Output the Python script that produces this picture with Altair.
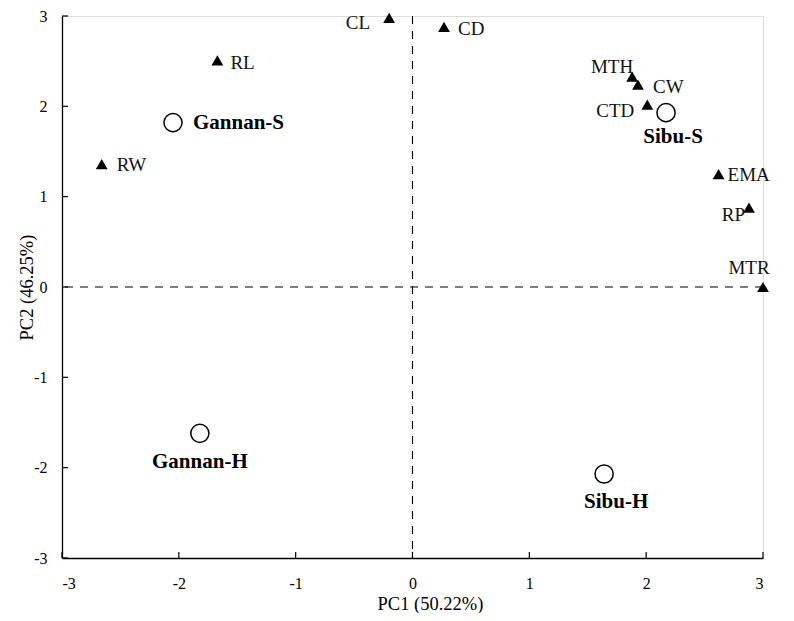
import altair as alt
import pandas as pd

# ---- data ----
var_names = ["CL", "CD", "RL", "RW", "MTH", "CW", "CTD", "EMA", "RP", "MTR"]
var_x = [-0.20, 0.27, -1.67, -2.66, 1.88, 1.93, 2.01, 2.62, 2.88, 3.00]
var_y = [2.98, 2.88, 2.51, 1.36, 2.33, 2.24, 2.02, 1.25, 0.88, 0.00]

grp_names = ["Gannan-S", "Sibu-S", "Gannan-H", "Sibu-H"]
grp_x = [-2.05, 2.17, -1.82, 1.64]
grp_y = [1.82, 1.93, -1.62, -2.07]

tick_values = [-3, -2, -1, 0, 1, 2, 3]

# label placement (align, dx, dy) — styling only
var_label_style = {
    "CL": ("right", -19, 5), "CD": ("left", 14, 2), "RL": ("left", 13, 3),
    "RW": ("left", 15, 1), "MTH": ("right", 1, -10), "CW": ("left", 15, 2),
    "CTD": ("right", -13, 6), "EMA": ("left", 9, 1), "RP": ("right", -4, 7),
    "MTR": ("center", -14, -19),
}
grp_label_style = {
    "Gannan-S": ("left", 20, 0), "Sibu-S": ("center", 7, 24),
    "Gannan-H": ("center", 0, 29), "Sibu-H": ("center", 12, 28),
}

FONT = "Liberation Serif"
W, H = 701, 542

vars_df = pd.DataFrame({"name": var_names, "x": var_x, "y": var_y})
grps_df = pd.DataFrame({"name": grp_names, "x": grp_x, "y": grp_y})

xs = alt.Scale(domain=[-3, 3], nice=False, zero=False)
ys = alt.Scale(domain=[-3, 3], nice=False, zero=False)

xaxis = alt.Axis(
    values=tick_values, ticks=False, grid=False, domainColor="black", domainWidth=1.3,
    labelFont=FONT, labelFontSize=16, labelColor="black", labelPadding=17,
    labelExpr="'' + datum.value",
    title="PC1 (50.22%)", titleFont=FONT, titleFontSize=18.5, titleFontWeight="normal",
    titleColor="black", titleX=368, titleY=45, titleAlign="center", titleBaseline="middle",
)
yaxis = alt.Axis(
    values=tick_values, ticks=False, grid=False, domainColor="black", domainWidth=1.3,
    labelFont=FONT, labelFontSize=16, labelColor="black", labelPadding=15,
    labelExpr="'' + datum.value",
    title="PC2 (46.25%)", titleFont=FONT, titleFontSize=18.5, titleFontWeight="normal",
    titleColor="black", titleX=-36, titleY=H / 2, titleAngle=-90, titleAlign="center",
    titleBaseline="middle",
)

X = alt.X("x:Q", scale=xs, axis=xaxis)
Y = alt.Y("y:Q", scale=ys, axis=yaxis)

layers = []

# dashed reference lines
layers.append(
    alt.Chart(pd.DataFrame({"x": [0]})).mark_rule(color="black", strokeWidth=1.1, strokeDash=[8, 7])
    .encode(x=X)
)
layers.append(
    alt.Chart(pd.DataFrame({"y": [0]})).mark_rule(color="black", strokeWidth=1.1, strokeDash=[8, 7])
    .encode(y=Y)
)

# inward tick marks
layers.append(
    alt.Chart(pd.DataFrame({"x": tick_values})).mark_rule(color="black", strokeWidth=1.2)
    .encode(x=X, y=alt.value(H), y2=alt.value(H - 6))
)
layers.append(
    alt.Chart(pd.DataFrame({"y": tick_values})).mark_rule(color="black", strokeWidth=1.2)
    .encode(y=Y, x=alt.value(0), x2=alt.value(6))
)

# variables (triangles)
layers.append(
    alt.Chart(vars_df).mark_point(shape="triangle-up", filled=True, color="black", size=140, opacity=1)
    .encode(x=X, y=Y)
)
# groups (open circles)
layers.append(
    alt.Chart(grps_df).mark_point(shape="circle", filled=False, color="black", size=330,
                                  strokeWidth=1.5, opacity=1)
    .encode(x=X, y=Y)
)

for n in var_names:
    a, dx, dy = var_label_style[n]
    layers.append(
        alt.Chart(vars_df[vars_df["name"] == n]).mark_text(
            align=a, baseline="middle", dx=dx, dy=dy, font=FONT, fontSize=19, color="#111"
        ).encode(x=X, y=Y, text="name:N")
    )
for n in grp_names:
    a, dx, dy = grp_label_style[n]
    layers.append(
        alt.Chart(grps_df[grps_df["name"] == n]).mark_text(
            align=a, baseline="middle", dx=dx, dy=dy, font=FONT, fontSize=21,
            fontWeight="bold", color="black"
        ).encode(x=X, y=Y, text="name:N")
    )

chart = alt.layer(*layers).properties(
    width=W, height=H,
    autosize=alt.AutoSizeParams(type="none"),
    padding={"left": 54, "top": 8, "right": 23, "bottom": 55},
).configure_view(stroke=None).configure(background="white")

chart.save("out.html", embed_options={"renderer": "svg", "actions": False})
